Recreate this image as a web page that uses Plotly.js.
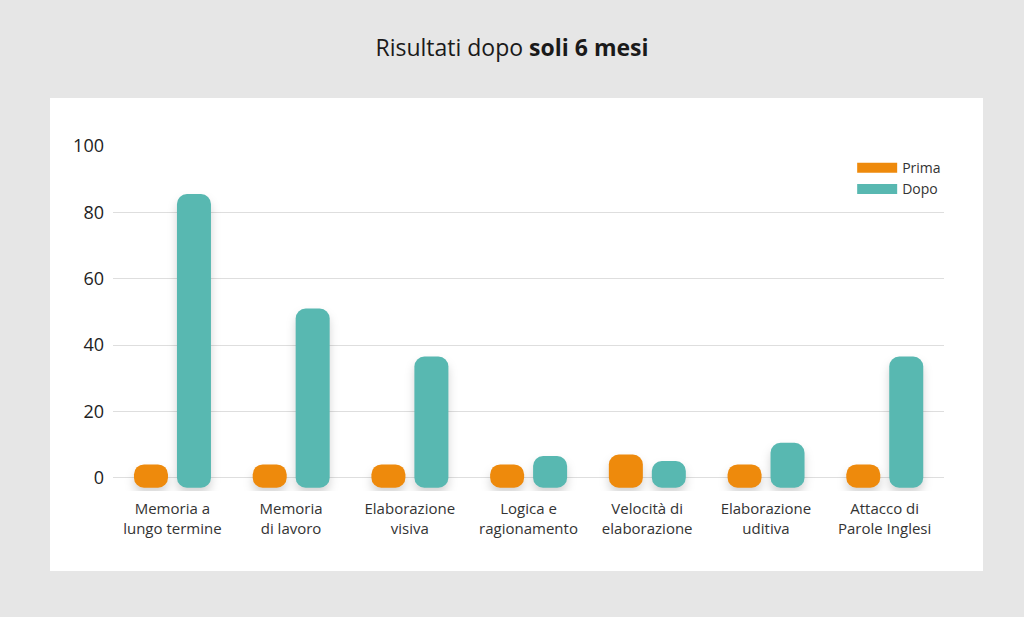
<!DOCTYPE html>
<html>
<head>
<meta charset="utf-8">
<script src="https://cdn.plot.ly/plotly-3.0.1.min.js"></script>
<style>
  html, body { margin: 0; padding: 0; background: #e6e6e6; }
  #panel { position: absolute; left: 50px; top: 98px; width: 933px; height: 473px; background: #ffffff; }
  #chart { position: absolute; left: 0; top: 0; width: 1024px; height: 617px; }
  #chart .barlayer { filter: drop-shadow(0px 6px 5px rgba(0,0,0,0.17)); }
  #chart .barlayer path { stroke-linejoin: round !important; }
</style>
</head>
<body>
<div id="panel"></div>
<div id="chart"></div>
<script>
// ---- data ----
const categories = [
  'Memoria a<br>lungo termine',
  'Memoria<br>di lavoro',
  'Elaborazione<br>visiva',
  'Logica e<br>ragionamento',
  'Velocità di<br>elaborazione',
  'Elaborazione<br>uditiva',
  'Attacco di<br>Parole Inglesi'
];
const prima = [4, 4, 4, 4, 7, 4, 4];
const dopo  = [85.5, 51, 36.5, 6.5, 5, 10.5, 36.5];
const seriesNames = ['Prima', 'Dopo'];
const yTicks = [0, 20, 40, 60, 80, 100];

// ---- style ----
const ORANGE = '#EE8A0C';
const TEAL = '#58B8B1';
// Each bar is a rounded "pill": a core rectangle stroked with a thick
// round-joined outline of the same colour. The outline adds ROUND_Y value
// units above and below the core, so the core is inset by that much.
const BELOW = 3;          // pills reach this far below the zero line
const ROUND_PX = 10;      // corner radius (px) = half the outline width
const ROUND_Y = 3.0;      // corner radius in y units (10px at 3.32px/unit)
const CORE_W = 0.118;     // core width in category units (34px total - 2*10px)

function pill(values, color, offset) {
  return {
    type: 'bar', x: categories,
    base: ROUND_Y - BELOW,
    y: values.map(v => v - ROUND_Y - (ROUND_Y - BELOW)),
    offset: offset, width: CORE_W,
    marker: { color: color, line: { color: color, width: 2 * ROUND_PX } },
    showlegend: false, hoverinfo: 'skip'
  };
}

const legendTraces = [
  { type: 'scatter', mode: 'lines', x: [null], y: [null], name: seriesNames[0],
    line: { color: ORANGE, width: 11 } },
  { type: 'scatter', mode: 'lines', x: [null], y: [null], name: seriesNames[1],
    line: { color: TEAL, width: 11 } }
];

const data = [
  pill(prima, ORANGE, -0.239),
  pill(dopo, TEAL, 0.123),
  ...legendTraces
];

const FONT = '"Open Sans", "Noto Sans", sans-serif';

const layout = {
  width: 1024, height: 617,
  margin: { l: 113, r: 80, t: 146, b: 126 },
  paper_bgcolor: 'rgba(0,0,0,0)',
  plot_bgcolor: 'rgba(0,0,0,0)',
  barmode: 'overlay',
  hovermode: false,
  font: { family: FONT, color: '#222222' },
  title: {
    text: 'Risultati dopo <b>soli 6 mesi</b>',
    font: { family: FONT, size: 23, color: '#1a1a1a' },
    x: 0.5, xanchor: 'center', xref: 'container',
    y: 1 - 48 / 617, yanchor: 'middle', yref: 'container'
  },
  xaxis: {
    type: 'category',
    range: [-0.5, 6.5],
    showgrid: false, zeroline: false, showline: false,
    ticks: '',
    ticklabelstandoff: 7,
    tickfont: { family: FONT, size: 15, color: '#333333' },
    fixedrange: true
  },
  yaxis: {
    range: [-4, 100],
    tickvals: yTicks,
    ticktext: yTicks.map(String),
    showgrid: true, gridcolor: '#dedede', gridwidth: 1,
    zeroline: false, showline: false,
    ticks: '',
    ticklabelstandoff: 8,
    tickfont: { family: FONT, size: 18, color: '#222222' },
    fixedrange: true
  },
  legend: {
    x: 0.8895, xanchor: 'left',
    y: 0.982, yanchor: 'top',
    bgcolor: 'rgba(0,0,0,0)',
    font: { family: FONT, size: 14, color: '#333333' },
    itemwidth: 40,
    tracegroupgap: 0
  },
  showlegend: true
};

Plotly.newPlot('chart', data, layout, { displayModeBar: false, staticPlot: true });
</script>
</body>
</html>
